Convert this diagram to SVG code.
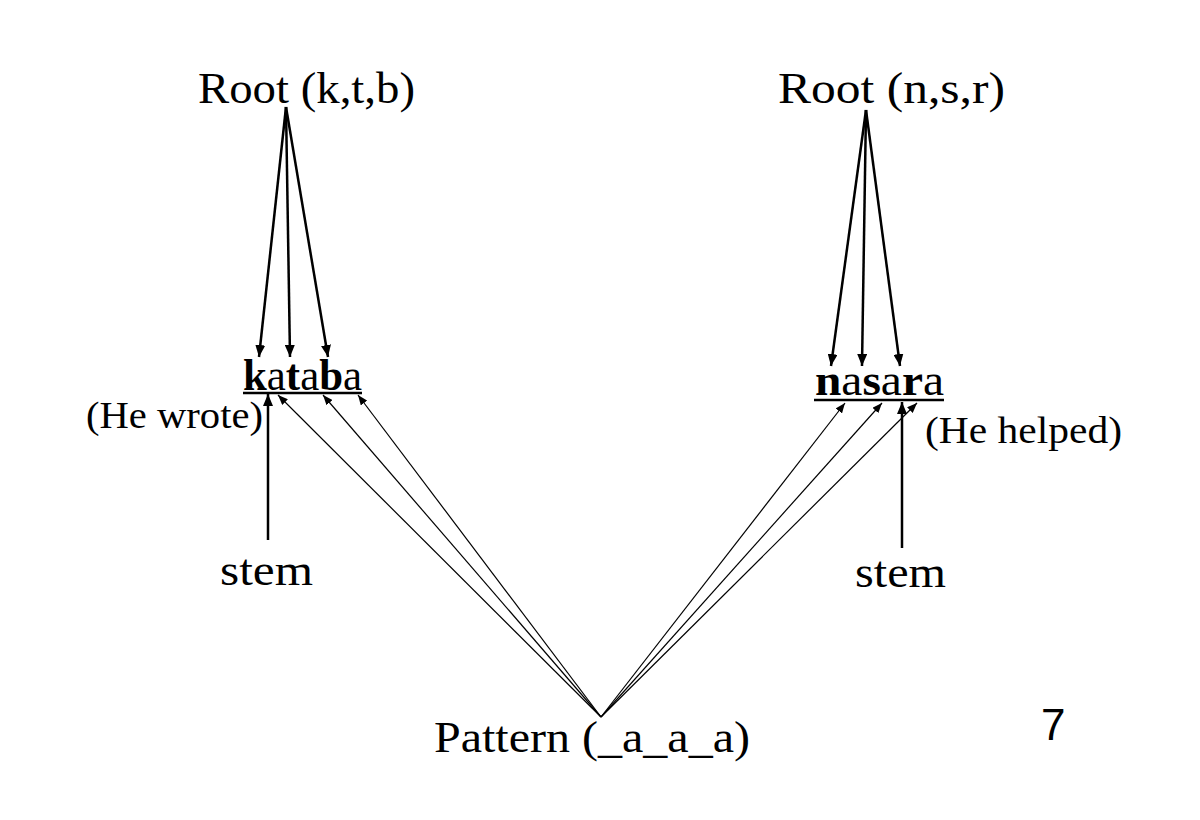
<svg xmlns="http://www.w3.org/2000/svg" width="1200" height="820" viewBox="0 0 1200 820">
<defs>
<style>
.t{font-family:"Liberation Serif","Times New Roman",serif;fill:#000}
.b{font-weight:bold}
.n{font-weight:normal}
.thick{stroke:#000;stroke-width:2.5;fill:none}
.thin{stroke:#000;stroke-width:1.2;fill:none}
</style>
<marker id="ah" viewBox="0 0 12 10" refX="12" refY="5" markerWidth="12" markerHeight="10" markerUnits="userSpaceOnUse" orient="auto"><path d="M0,0 L12,5 L0,10 Z" fill="#000"/></marker>
<marker id="as" viewBox="0 0 10 8" refX="10" refY="4" markerWidth="10" markerHeight="8" markerUnits="userSpaceOnUse" orient="auto"><path d="M0,0 L10,4 L0,8 Z" fill="#000"/></marker>
</defs>
<rect width="1200" height="820" fill="#fff"/>
<g id="connectors">
<line class="thick" x1="286" y1="107" x2="259" y2="357" marker-end="url(#ah)"/>
<line class="thick" x1="286" y1="107" x2="290" y2="357" marker-end="url(#ah)"/>
<line class="thick" x1="286" y1="107" x2="328" y2="357" marker-end="url(#ah)"/>
<line class="thick" x1="866" y1="110" x2="831" y2="366" marker-end="url(#ah)"/>
<line class="thick" x1="866" y1="110" x2="862" y2="366" marker-end="url(#ah)"/>
<line class="thick" x1="866" y1="110" x2="900" y2="366" marker-end="url(#ah)"/>
<line class="thick" x1="268" y1="540" x2="268" y2="394" marker-end="url(#ah)"/>
<line class="thick" x1="902" y1="548" x2="902" y2="402" marker-end="url(#ah)"/>
<line class="thin" x1="601" y1="717" x2="278" y2="395" marker-end="url(#as)"/>
<line class="thin" x1="601" y1="717" x2="323" y2="395" marker-end="url(#as)"/>
<line class="thin" x1="601" y1="717" x2="358" y2="395" marker-end="url(#as)"/>
<line class="thin" x1="601" y1="717" x2="845" y2="403" marker-end="url(#as)"/>
<line class="thin" x1="601" y1="717" x2="882" y2="403" marker-end="url(#as)"/>
<line class="thin" x1="601" y1="717" x2="917" y2="403" marker-end="url(#as)"/>
</g>
<g id="root-ktb"><text class="t" x="198" y="103" font-size="45" textLength="217" lengthAdjust="spacingAndGlyphs">Root (k,t,b)</text></g>
<g id="root-nsr"><text class="t" x="778" y="103" font-size="45" textLength="227" lengthAdjust="spacingAndGlyphs">Root (n,s,r)</text></g>
<g id="kataba">
<text class="t" x="243" y="390" font-size="44" textLength="119" lengthAdjust="spacingAndGlyphs"><tspan class="b">k</tspan><tspan class="n">a</tspan><tspan class="b">t</tspan><tspan class="n">a</tspan><tspan class="b">b</tspan><tspan class="n">a</tspan></text>
<line class="thick" x1="243" y1="393" x2="362" y2="393"/>
</g>
<g id="nasara">
<text class="t" x="815" y="395" font-size="44" textLength="129" lengthAdjust="spacingAndGlyphs"><tspan class="b">n</tspan><tspan class="n">a</tspan><tspan class="b">s</tspan><tspan class="n">a</tspan><tspan class="b">r</tspan><tspan class="n">a</tspan></text>
<line class="thick" x1="814" y1="400" x2="944" y2="400"/>
</g>
<g id="he-wrote"><text class="t" x="86" y="428" font-size="37" textLength="177" lengthAdjust="spacingAndGlyphs">(He wrote)</text></g>
<g id="he-helped"><text class="t" x="925" y="443" font-size="37" textLength="197" lengthAdjust="spacingAndGlyphs">(He helped)</text></g>
<g id="stem-left"><text class="t" x="220" y="585" font-size="45" textLength="93" lengthAdjust="spacingAndGlyphs">stem</text></g>
<g id="stem-right"><text class="t" x="855" y="587" font-size="45" textLength="91" lengthAdjust="spacingAndGlyphs">stem</text></g>
<g id="pattern"><text class="t" x="434" y="752" font-size="45" textLength="316" lengthAdjust="spacingAndGlyphs">Pattern (_a_a_a)</text></g>
<g id="page-number"><text x="1041" y="740" font-family="Liberation Sans, Arial, sans-serif" font-size="44" fill="#000">7</text></g>
</svg>
